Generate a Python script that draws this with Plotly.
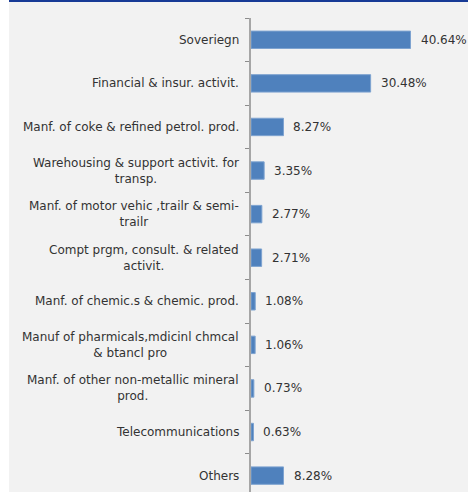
import plotly.graph_objects as go

# Sector exposure (share of portfolio, %)
categories = [
    "Soveriegn",
    "Financial & insur. activit.",
    "Manf. of coke & refined petrol. prod.",
    "Warehousing & support activit. for<br>transp.",
    "Manf. of motor vehic ,trailr & semi-<br>trailr",
    "Compt prgm, consult. & related<br>activit.",
    "Manf. of chemic.s & chemic. prod.",
    "Manuf of pharmicals,mdicinl chmcal<br>& btancl pro",
    "Manf. of other non-metallic mineral<br>prod.",
    "Telecommunications",
    "Others",
]
values = [40.64, 30.48, 8.27, 3.35, 2.77, 2.71, 1.08, 1.06, 0.73, 0.63, 8.28]
value_labels = [f"{v:.2f}%" for v in values]

FONT = "Century Gothic, DejaVu Sans, sans-serif"
TEXT = "#333333"
BAR = "#4f81bd"
BG = "#f2f2f2"

idx = list(range(len(categories)))

fig = go.Figure()
fig.add_trace(go.Bar(
    x=values,
    y=idx,
    orientation="h",
    marker=dict(color=BAR, line=dict(color="#7ea3d0", width=1)),
    hoverinfo="skip",
))

# Category names, right-aligned against the axis with centred wrapped lines
for i, name in zip(idx, categories):
    fig.add_annotation(
        x=0, y=i, xref="paper", yref="y",
        text=name, showarrow=False,
        xanchor="right", yanchor="middle", align="center",
        xshift=-10,
        font=dict(family=FONT, size=12, color=TEXT),
    )

# Value labels to the right of each bar
for i, v, lab in zip(idx, values, value_labels):
    fig.add_annotation(
        x=v, y=i, xref="x", yref="y",
        text=lab, showarrow=False,
        xanchor="left", yanchor="middle",
        xshift=8,
        font=dict(family=FONT, size=12, color=TEXT),
    )

# White strip on the left edge and the dark blue rule along the top
fig.add_shape(type="rect", xref="paper", yref="paper",
              x0=-251 / 207, x1=-242 / 207, y0=-0.1, y1=1.1,
              fillcolor="white", line_width=0, layer="below")
fig.add_shape(type="rect", xref="paper", yref="paper",
              x0=-242 / 207, x1=1.2, y0=1 + 16 / 474, y1=1.1,
              fillcolor="#173a96", line_width=0)

fig.update_layout(
    width=468, height=492,
    margin=dict(l=251, r=10, t=18, b=0),
    paper_bgcolor=BG, plot_bgcolor=BG,
    showlegend=False,
    bargap=0.6,
    xaxis=dict(range=[0, 207 / 3.925], visible=False, fixedrange=True),
    yaxis=dict(
        range=[10.5 - 5.4 / 43.6, -0.5],
        tickmode="array", tickvals=[i - 0.5 for i in idx] + [10.5],
        ticktext=[""] * (len(idx) + 1),
        ticks="outside", ticklen=4, tickcolor="#8c8c8c", tickwidth=1,
        showline=True, linecolor="#a6a6a6", linewidth=2,
        showgrid=False, zeroline=False, fixedrange=True,
    ),
)

fig.write_html("out.html")
